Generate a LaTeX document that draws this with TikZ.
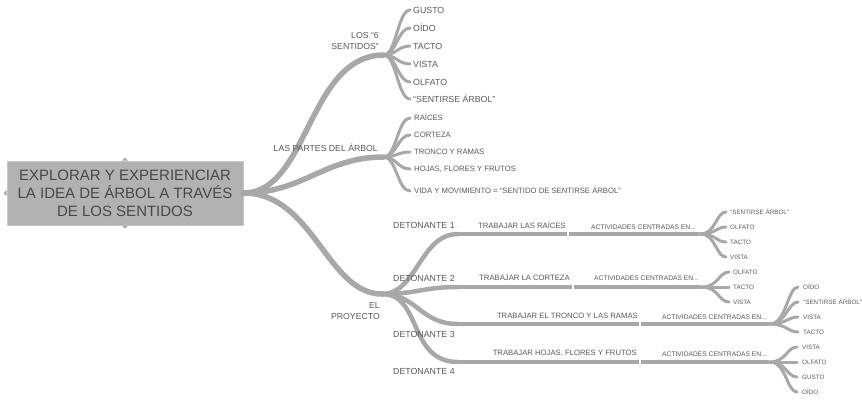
\documentclass[tikz,border=0pt]{standalone}
\usepackage{fontspec}
\setmainfont{Liberation Sans}
\usetikzlibrary{calc}
\definecolor{lc}{HTML}{A8A8A8}
\definecolor{tc}{HTML}{5A5A5A}
\definecolor{rootfill}{HTML}{B2B2B2}
\definecolor{rootline}{HTML}{C6C6C6}
\definecolor{roottext}{HTML}{484848}
\begin{document}
\begin{tikzpicture}[x=1pt,y=-1pt,
  br/.style={draw=lc,line width=5.5pt,line cap=round},
  brd/.style={draw=lc,line width=4.5pt,line cap=round},
  seg/.style={draw=lc,line width=4pt,line cap=butt},
  lf/.style={draw=lc,line width=3pt,line cap=round},
  txt/.style={text=tc,inner sep=0pt,text depth=0pt},
  rootbox/.style={fill=rootfill,draw=rootline,line width=1pt,minimum width=236pt,minimum height=64pt,inner sep=0pt,align=center,text=roottext,font=\fontsize{15}{18}\selectfont},
  lab2/.style={txt,font=\fontsize{8.7}{11}\selectfont,text height=6.3pt},
  lab2m/.style={text=tc,inner sep=0pt,font=\fontsize{8.7}{11}\selectfont},
  leafA/.style={txt,font=\fontsize{8.8}{10}\selectfont,text height=6.3pt},
  leafB/.style={txt,font=\fontsize{7.7}{9}\selectfont,text height=5.5pt},
  detlab/.style={txt,font=\fontsize{8.8}{10}\selectfont,text height=6.3pt},
  trab/.style={txt,font=\fontsize{7.7}{9}\selectfont,text height=5.5pt},
  act/.style={txt,font=\fontsize{6.7}{8}\selectfont,text height=4.8pt},
  leafC/.style={txt,font=\fontsize{6.3}{8}\selectfont,text height=4.5pt},
  notch/.style={fill=lc}
]
\fill[white] (0,0) rectangle (862,399);
\useasboundingbox (0,0) rectangle (862,399);

% root
\node[rootbox] (root) at (125,193) {EXPLORAR Y EXPERIENCIAR\\LA IDEA DE ÁRBOL A TRAVÉS\\DE LOS SENTIDOS};
\fill[notch] ($(root.north)+(-3,0)$) -- ($(root.north)+(0,-3)$) -- ($(root.north)+(3,0)$) -- cycle;
\fill[notch] ($(root.south)+(-3,0)$) -- ($(root.south)+(0,3)$) -- ($(root.south)+(3,0)$) -- cycle;
\fill[notch] ($(root.west)+(0,-3)$) -- ($(root.west)+(-3,0)$) -- ($(root.west)+(0,3)$) -- cycle;

% junctions
\coordinate (J1) at (384,55);
\coordinate (J2) at (384,157);
\coordinate (J3) at (382,294);

\draw[br] (root.east) .. controls +(65,0) and +(-76,0) .. (J1);
\draw[br] (root.east) .. controls +(60,0) and +(-60,0) .. (J2);
\draw[br] (root.east) .. controls +(70,0) and +(-55,0) .. (J3);

% level 2 labels
\node[lab2m,anchor=east,align=right] (sent) at (379,41) {LOS “6\\SENTIDOS”};
\node[lab2,anchor=east] (partes) at (378,148) {LAS PARTES DEL ÁRBOL};
\node[lab2m,anchor=east,align=right] (proy) at (380,311) {EL\\PROYECTO};

% senses
\foreach \n/\y/\t in {g/10/GUSTO, o/28/OÍDO, t/46/TACTO, v/64/VISTA, f/82/OLFATO, s/99/{“SENTIRSE ÁRBOL”}}{
  \node[leafA,anchor=west] (s\n) at (413,\y) {\t};
  \draw[lf] (J1) .. controls +(12,0) and +(-12,0) .. ([xshift=-3pt]s\n.west);
}
% parts
\foreach \n/\y/\t in {r/118/RAÍCES, c/135/CORTEZA, t/152/TRONCO Y RAMAS, h/169/{HOJAS, FLORES Y FRUTOS}, v/191/{VIDA Y MOVIMIENTO = “SENTIDO DE SENTIRSE ÁRBOL”}}{
  \node[leafB,anchor=west] (p\n) at (414,\y) {\t};
  \draw[lf] (J2) .. controls +(12,0) and +(-12,0) .. ([xshift=-4pt]p\n.west);
}

% detonantes
\coordinate (D1) at (458,234); \coordinate (K1) at (568,234); \coordinate (A1) at (700,234);
\coordinate (D2) at (458,287); \coordinate (K2) at (573,287); \coordinate (A2) at (702,287);
\coordinate (D3) at (458,324); \coordinate (K3) at (640,324); \coordinate (A3) at (770,324);
\coordinate (D4) at (458,362); \coordinate (K4) at (640,362); \coordinate (A4) at (770,362);

\draw[brd] (J3) .. controls +(35,0) and +(-38,0) .. (D1);
\draw[brd] (J3) .. controls +(35,0) and +(-35,0) .. (D2);
\draw[brd] (J3) .. controls +(35,0) and +(-38,0) .. (D3);
\draw[brd] (J3) .. controls +(40,0) and +(-50,0) .. (D4);

\foreach \i in {1,2,3,4}{
  \draw[seg] ([xshift=1pt]D\i) -- ([xshift=-1pt]K\i);
  \draw[seg] ([xshift=1pt]K\i) -- ([xshift=-1pt]A\i);
}

\node[detlab,anchor=west] (d1) at (393,225) {DETONANTE 1};
\node[detlab,anchor=west] (d2) at (393,278) {DETONANTE 2};
\node[detlab,anchor=west] (d3) at (393,334) {DETONANTE 3};
\node[detlab,anchor=west] (d4) at (393,371) {DETONANTE 4};

\node[trab,anchor=east] (t1) at (566,226) {TRABAJAR LAS RAÍCES};
\node[trab,anchor=east] (t2) at (570,278) {TRABAJAR LA CORTEZA};
\node[trab,anchor=east] (t3) at (638,316) {TRABAJAR EL TRONCO Y LAS RAMAS};
\node[trab,anchor=east] (t4) at (637,353) {TRABAJAR HOJAS, FLORES Y FRUTOS};

\node[act,anchor=east] (a1) at (696,227) {ACTIVIDADES CENTRADAS EN...};
\node[act,anchor=east] (a2) at (699,278) {ACTIVIDADES CENTRADAS EN...};
\node[act,anchor=east] (a3) at (767,317) {ACTIVIDADES CENTRADAS EN...};
\node[act,anchor=east] (a4) at (767,354) {ACTIVIDADES CENTRADAS EN...};

% leaves of detonantes
\foreach \n/\y/\t in {s/212/{“SENTIRSE ÁRBOL”}, f/227/OLFATO, t/242/TACTO, v/257/VISTA}{
  \node[leafC,anchor=west] (ea\n) at (730,\y) {\t};
  \draw[lf] (A1) .. controls +(16,0) and +(-10,0) .. ([xshift=-4pt]ea\n.west);
}
\foreach \n/\y/\t in {f/272/OLFATO, t/287/TACTO, v/302/VISTA}{
  \node[leafC,anchor=west] (eb\n) at (733,\y) {\t};
  \draw[lf] (A2) .. controls +(16,0) and +(-10,0) .. ([xshift=-4pt]eb\n.west);
}
\foreach \n/\y/\t in {o/287/OÍDO, s/302/{“SENTIRSE ÁRBOL”}, v/317/VISTA, t/332/TACTO}{
  \node[leafC,anchor=west] (ec\n) at (803,\y) {\t};
  \draw[lf] (A3) .. controls +(16,0) and +(-10,0) .. ([xshift=-5pt]ec\n.west);
}
\foreach \n/\y/\t in {v/347/VISTA, f/362/OLFATO, g/377/GUSTO, o/392/OÍDO}{
  \node[leafC,anchor=west] (ed\n) at (802,\y) {\t};
  \draw[lf] (A4) .. controls +(16,0) and +(-10,0) .. ([xshift=-5pt]ed\n.west);
}
\end{tikzpicture}
\end{document}
